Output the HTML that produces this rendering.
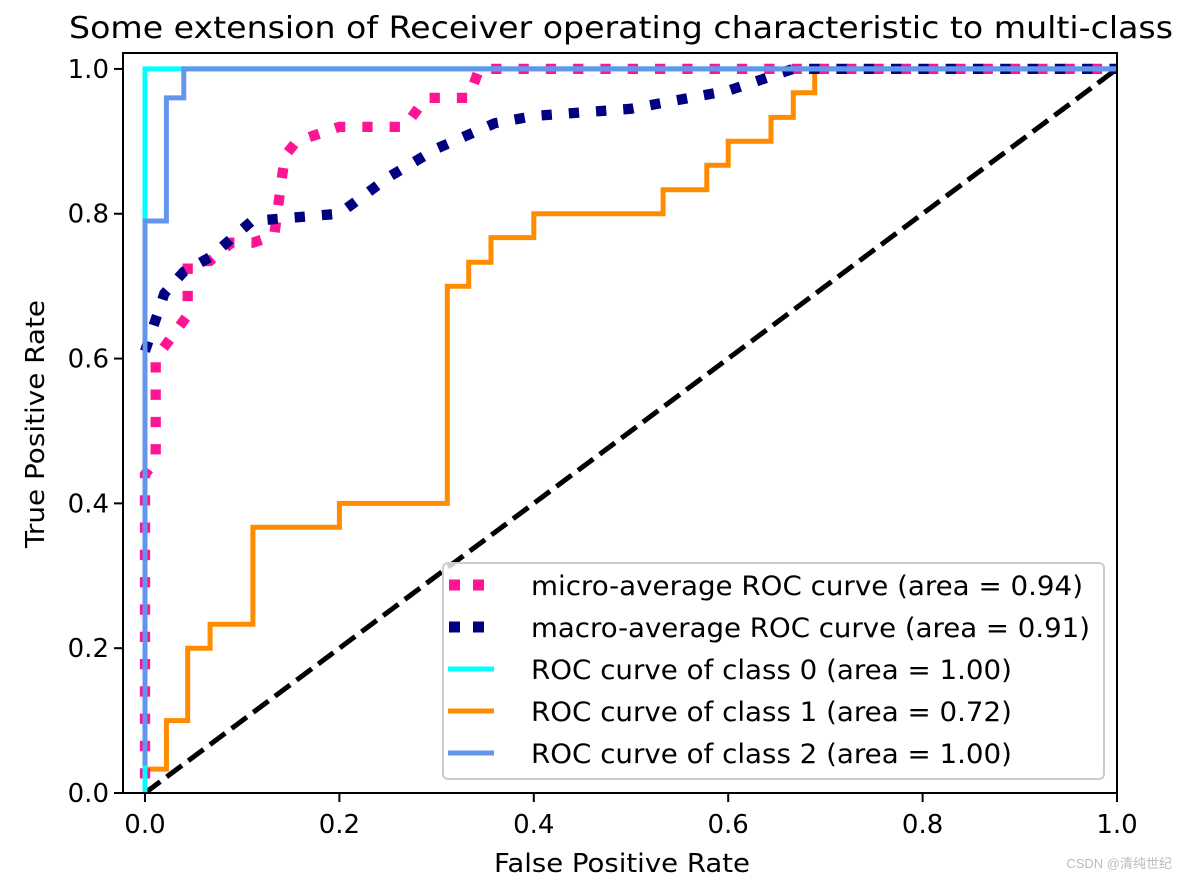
<!DOCTYPE html>
<html><head><meta charset="utf-8">
<style>
html,body{margin:0;padding:0;background:#fff;}
svg{display:block;font-family:"DejaVu Sans","Liberation Sans",sans-serif;}
</style></head>
<body>
<svg id="chart" width="1188" height="882" xmlns="http://www.w3.org/2000/svg">
<rect width="1188" height="882" fill="#fff"/>
<text x="621" y="38" font-size="30" text-anchor="middle" textLength="1104" lengthAdjust="spacingAndGlyphs">Some extension of Receiver operating characteristic to multi-class</text>
<g id="plot"></g>
<text x="622" y="872" font-size="26" text-anchor="middle" textLength="256" lengthAdjust="spacingAndGlyphs">False Positive Rate</text>
<text transform="translate(44,424) rotate(-90)" font-size="26" text-anchor="middle" textLength="248" lengthAdjust="spacingAndGlyphs">True Positive Rate</text>
<text x="1172" y="868" font-size="13" fill="#bbb" text-anchor="end" font-family="Liberation Sans, Noto Sans CJK SC, sans-serif">CSDN @清纯世纪</text>
</svg>
<script>
const xTicks=[0.0,0.2,0.4,0.6,0.8,1.0];
const yTicks=[0.0,0.2,0.4,0.6,0.8,1.0];
const microX=[0,0,0.011,0.011,0.022,0.033,0.044,0.044,0.067,0.089,0.111,0.133,0.144,0.156,0.2,0.267,0.289,0.333,0.344,1];
const microY=[0.02,0.44,0.46,0.6,0.62,0.64,0.66,0.733,0.735,0.76,0.76,0.77,0.88,0.9,0.92,0.92,0.96,0.96,1.0,1.0];
const macroX=[0,0.02,0.04,0.067,0.11,0.2,0.25,0.3,0.36,0.4,0.5,0.6,0.667,1];
const macroY=[0.61,0.69,0.72,0.74,0.79,0.8,0.85,0.89,0.925,0.935,0.945,0.97,1.0,1.0];
const c0X=[0,0,1];
const c0Y=[0,1,1];
const c1X=[0,0.022,0.022,0.044,0.044,0.067,0.067,0.111,0.111,0.2,0.2,0.311,0.311,0.333,0.333,0.356,0.356,0.4,0.4,0.533,0.533,0.578,0.578,0.6,0.6,0.644,0.644,0.667,0.667,0.689,0.689,1];
const c1Y=[0.033,0.033,0.1,0.1,0.2,0.2,0.233,0.233,0.367,0.367,0.4,0.4,0.7,0.7,0.733,0.733,0.767,0.767,0.8,0.8,0.833,0.833,0.867,0.867,0.9,0.9,0.933,0.933,0.967,0.967,1,1];
const c2X=[0,0,0.022,0.022,0.04,0.04,1];
const c2Y=[0.038,0.79,0.79,0.96,0.96,1,1];

const X0=123,X1=1117,Y0=793,Y1=53;
const xmin=-0.0226,xmax=1.0,ymin=0,ymax=1.022;
const sx=v=>X0+(v-xmin)/(xmax-xmin)*(X1-X0);
const sy=v=>Y0-(v-ymin)/(ymax-ymin)*(Y0-Y1);
const NS="http://www.w3.org/2000/svg";
const g=document.getElementById('plot');
function mk(tag,attrs,parent){const e=document.createElementNS(NS,tag);for(const k in attrs)e.setAttribute(k,attrs[k]);(parent||g).appendChild(e);return e;}
function pts(xs,ys){return xs.map((x,i)=>sx(x).toFixed(1)+','+sy(ys[i]).toFixed(1)).join(' ');}

const defs=mk('defs',{});
const cp=mk('clipPath',{id:'clip'},defs);
mk('rect',{x:X0,y:Y1,width:X1-X0,height:Y0-Y1},cp);
const lines=mk('g',{'clip-path':'url(#clip)'});

let l;
l=mk('polyline',{points:pts(c1X,c1Y),fill:'none',stroke:'#ff8c00','stroke-width':5,'stroke-linejoin':'miter'},lines);


l=mk('polyline',{points:pts([0,1],[0,1]),fill:'none',stroke:'#000','stroke-width':5,'stroke-dasharray':'19 8'},lines);


l=mk('polyline',{points:pts(microX,microY),fill:'none',stroke:'#ff1493','stroke-width':10.3,'stroke-dasharray':'10.3 17'},lines);


l=mk('polyline',{points:pts(macroX,macroY),fill:'none',stroke:'#000080','stroke-width':10.3,'stroke-dasharray':'10.3 17'},lines);


l=mk('polyline',{points:pts(c0X,c0Y),fill:'none',stroke:'#00ffff','stroke-width':5},lines);


l=mk('polyline',{points:pts(c2X,c2Y),fill:'none',stroke:'#6495ed','stroke-width':5},lines);



const fr=mk('rect',{x:X0,y:Y1,width:X1-X0,height:Y0-Y1,fill:'none',stroke:'#000','stroke-width':2});



xTicks.forEach(v=>{
  const x=sx(v);
  const t=mk('line',{x1:x,x2:x,y1:Y0,y2:Y0+9,stroke:'#000','stroke-width':2});
  
  
  const tx=mk('text',{x:x,y:Y0+40,'font-size':26,'text-anchor':'middle'});
  tx.textContent=v.toFixed(1);
  
  
});
yTicks.forEach(v=>{
  const y=sy(v);
  const t=mk('line',{x1:X0-9,x2:X0,y1:y,y2:y,stroke:'#000','stroke-width':2});
  
  
  const tx=mk('text',{x:X0-14,y:y+9,'font-size':26,'text-anchor':'end'});
  tx.textContent=v.toFixed(1);
  
  
});

const lg=mk('g',{});


mk('rect',{x:443,y:563,width:661,height:216,rx:5,fill:'#fff','fill-opacity':0.8,stroke:'#ccc','stroke-width':2},lg);
const entries=[
 ['micro-average ROC curve (area = 0.94)','#ff1493',true,'legend-entry-micro',552],
 ['macro-average ROC curve (area = 0.91)','#000080',true,'legend-entry-macro',559],
 ['ROC curve of class 0 (area = 1.00)','#00ffff',false,'legend-entry-class-0',481],
 ['ROC curve of class 1 (area = 0.72)','#ff8c00',false,'legend-entry-class-1',481],
 ['ROC curve of class 2 (area = 1.00)','#6495ed',false,'legend-entry-class-2',481]];
entries.forEach((e,i)=>{
  const y=585+i*42;
  const eg=mk('g',{},lg);
  
  
  if(e[2]){
    mk('rect',{x:449,y:y-5.5,width:11,height:11,fill:e[1]},eg);
    mk('rect',{x:473,y:y-5.5,width:11,height:11,fill:e[1]},eg);
  } else {
    mk('line',{x1:448,x2:494,y1:y,y2:y,stroke:e[1],'stroke-width':5},eg);
  }
  const t=mk('text',{x:531,y:y+10,'font-size':27,textLength:e[4],lengthAdjust:'spacingAndGlyphs'},eg);
  t.textContent=e[0];
});
</script>
</body></html>
